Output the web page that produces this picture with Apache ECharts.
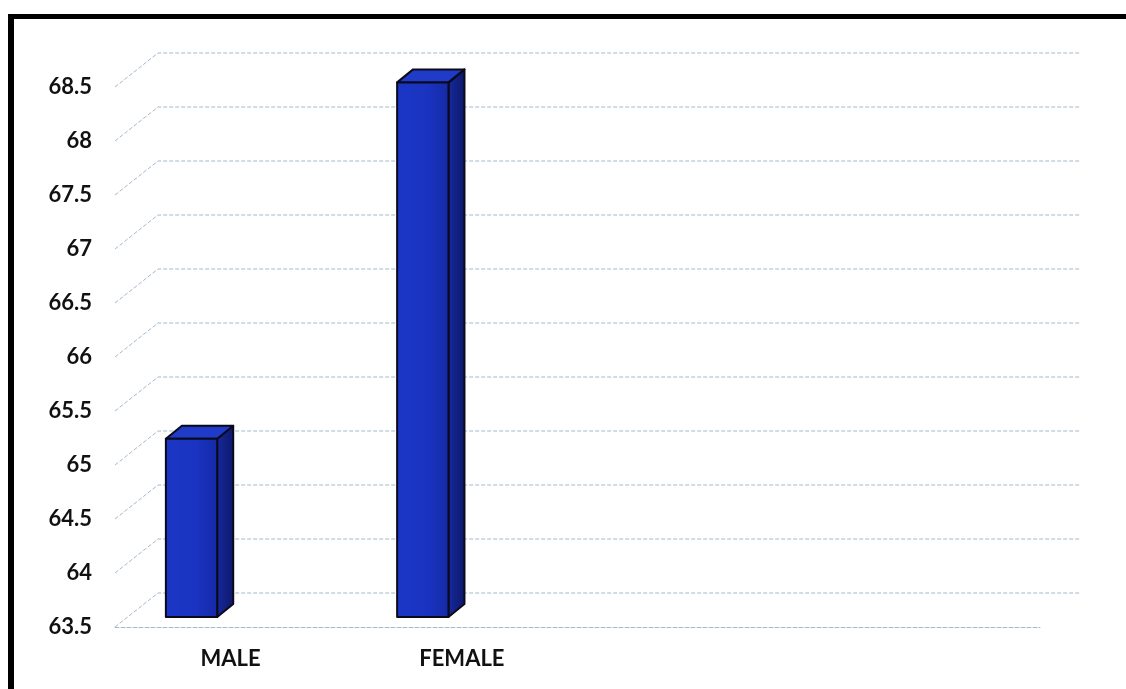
<!DOCTYPE html>
<html>
<head>
<meta charset="utf-8">
<script src="https://cdn.jsdelivr.net/npm/echarts@6/dist/echarts.min.js"></script>
<style>
  html, body { margin: 0; padding: 0; background: #ffffff; }
  #chart { width: 1126px; height: 689px; }
</style>
</head>
<body>
<div id="chart"></div>
<script>
const categories = ["MALE", "FEMALE", "", ""];
const values = [65.15, 68.45];
const yTicks = [63.5, 64, 64.5, 65, 65.5, 66, 66.5, 67, 67.5, 68, 68.5];

const yMin = 63.5;
const yMax = 68.5;

const chart = echarts.init(document.getElementById("chart"));

// perspective wall: short diagonal from the front edge, then along the back
function renderWall(params, api) {
  const cs = params.coordSys;
  const y = api.coord([0, api.value(0)])[1];
  const x0 = cs.x;
  return {
    type: "polyline",
    shape: {
      points: [
        [x0, y],
        [x0 + 43, y - 34],
        [x0 + cs.width + 40, y - 34],
      ],
    },
    style: {
      fill: null,
      stroke: "#a3b9cf",
      lineWidth: 1,
      lineDash: [4, 2],
    },
  };
}

// 3d-looking bar: front face, side face and top
function renderBar(params, api) {
  const p = api.coord([api.value(0), api.value(1)]);
  const base = api.coord([api.value(0), yMin]);
  const band = api.size([1, 0])[0];
  const cx = p[0];
  const top = p[1] - 10;
  const bottom = base[1] - 10;
  const xl = cx - band * 0.28;
  const xr = cx - band * 0.058;
  const dx = 16;
  const dy = -13;
  const edge = { stroke: "#0a0a1a", lineWidth: 2, lineJoin: "round" };
  return {
    type: "group",
    children: [
      {
        type: "polygon",
        shape: { points: [[xr, top], [xr + dx, top + dy], [xr + dx, bottom + dy], [xr, bottom]] },
        style: Object.assign({
          fill: new echarts.graphic.LinearGradient(0, 0, 1, 0, [
            { offset: 0, color: "#1829a0" },
            { offset: 1, color: "#0c1868" },
          ]),
        }, edge),
      },
      {
        type: "polygon",
        shape: { points: [[xl, top], [xl + dx, top + dy], [xr + dx, top + dy], [xr, top]] },
        style: Object.assign({ fill: "#1f3bc8" }, edge),
      },
      {
        type: "rect",
        shape: { x: xl, y: top, width: xr - xl, height: bottom - top },
        style: Object.assign({
          fill: new echarts.graphic.LinearGradient(0, 0, 1, 0, [
            { offset: 0, color: "#1b36c6" },
            { offset: 0.6, color: "#1a33c0" },
            { offset: 1, color: "#142aa6" },
          ]),
        }, edge),
      },
    ],
  };
}

const option = {
  backgroundColor: "#ffffff",
  animation: false,
  grid: {
    left: 115,
    right: 86,
    top: 87,
    bottom: 62,
  },
  graphic: [
    {
      type: "line",
      shape: { x1: 8, y1: 16.5, x2: 1126, y2: 16.5 },
      style: { stroke: "#000000", lineWidth: 5 },
    },
    {
      type: "line",
      shape: { x1: 11, y1: 14, x2: 11, y2: 689 },
      style: { stroke: "#000000", lineWidth: 6 },
    },
  ],
  xAxis: {
    type: "category",
    data: categories,
    axisLine: {
      show: true,
      lineStyle: { color: "#a3b9cf", width: 1, type: [4, 2] },
    },
    axisTick: { show: false },
    axisLabel: {
      color: "#111111",
      fontFamily: "Lato",
      fontWeight: "bold",
      fontSize: 22,
      margin: 21,
    },
    splitLine: { show: false },
  },
  yAxis: {
    type: "value",
    min: yMin,
    max: yMax,
    interval: 0.5,
    axisLine: { show: false },
    axisTick: { show: false },
    splitLine: { show: false },
    axisLabel: {
      color: "#111111",
      fontFamily: "Lato",
      fontWeight: "bold",
      fontSize: 22,
      margin: 23,
    },
  },
  series: [
    {
      type: "custom",
      name: "wall",
      silent: true,
      renderItem: renderWall,
      data: yTicks.map((v) => [v]),
      encode: { y: 0 },
      z: 1,
    },
    {
      type: "custom",
      name: "bars",
      renderItem: renderBar,
      data: values.map((v, i) => [i, v]),
      encode: { x: 0, y: 1 },
      z: 3,
    },
  ],
};

chart.setOption(option);
</script>
</body>
</html>
